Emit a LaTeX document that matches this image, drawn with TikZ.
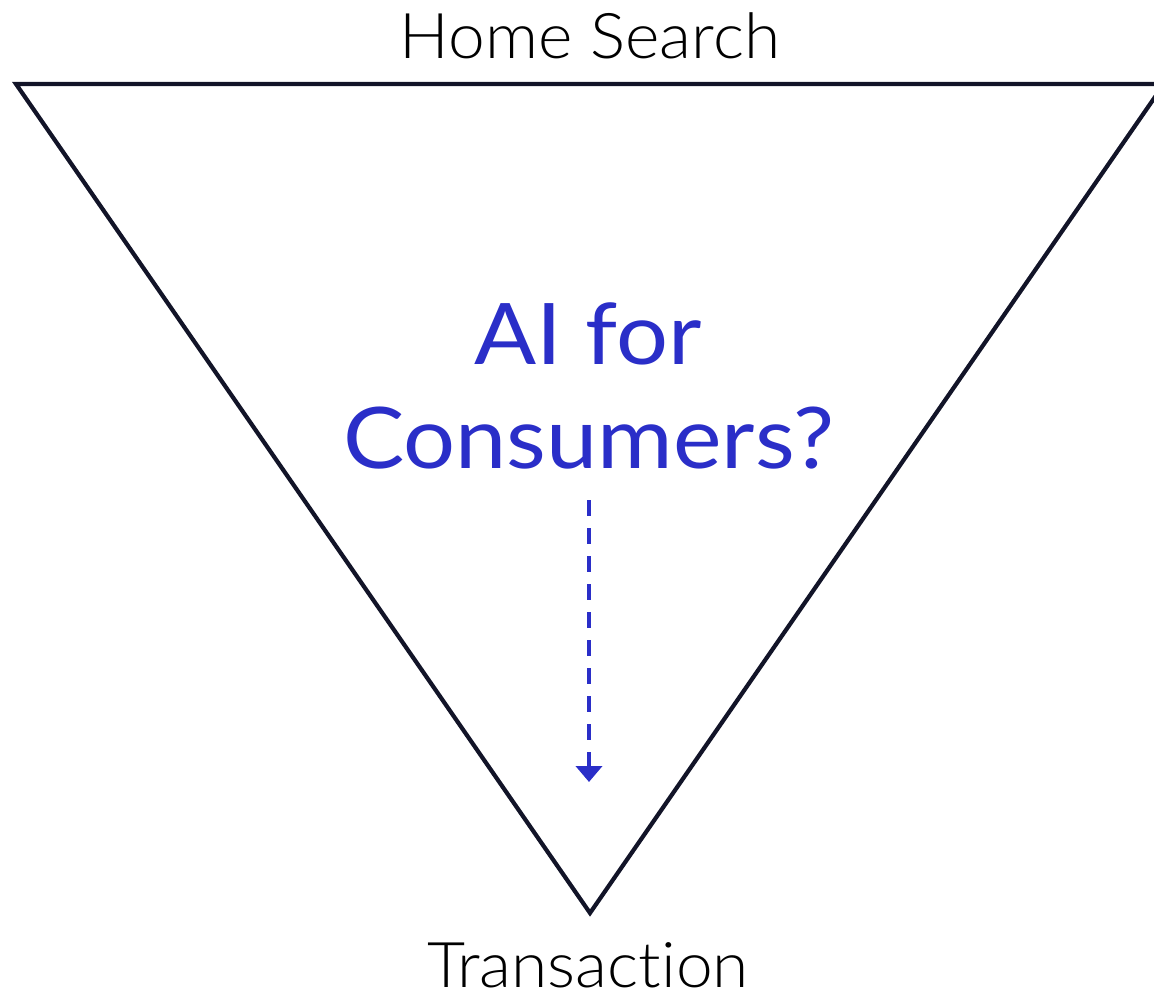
\documentclass[tikz,border=0pt]{standalone}
\usepackage{fontspec}
\setmainfont{Lato}[Ligatures={NoCommon,NoRare,NoDiscretionary}, FakeStretch=1.08]
\newfontfamily\lightfont{Lato}[UprightFont=* Light, Ligatures={NoCommon,NoRare,NoDiscretionary}, FakeStretch=1.045]
\usetikzlibrary{arrows.meta}
\definecolor{navy}{RGB}{18,20,40}
\definecolor{aiblue}{RGB}{42,46,200}
\tikzset{
  lbl/.style={anchor=base, inner sep=0pt, text=black, font=\lightfont\fontsize{63}{70}\selectfont},
  ailbl/.style={anchor=base, inner sep=0pt, text=aiblue, font=\fontsize{85}{100}\selectfont},
  funnel/.style={draw=navy, line width=4.2pt, line join=miter},
  flow/.style={draw=aiblue, line width=4pt, dash pattern=on 16pt off 12pt, -{Triangle[length=16pt,width=26pt]}}
}
\begin{document}
\begin{tikzpicture}[x=1pt,y=-1pt]
\useasboundingbox (0,0) rectangle (1154,991);
\clip (0,0) rectangle (1154,991);
\coordinate (tl) at (16,84);
\coordinate (tr) at (1164,84);
\coordinate (bot) at (590,913);
\draw[funnel] (tl) -- (tr) -- (bot) -- cycle;
\node[lbl] (home) at (590,58) {Home Search};
\node[lbl] (trans) at (588,987) {Transaction};
\node[ailbl] (ai1) at (588,364) {AI for};
\node[ailbl] (ai2) at (589,468) {Consumers?};
\coordinate (arrS) at (589,500);
\coordinate (arrE) at (589,782);
\draw[flow] (arrS) -- (arrE);
\end{tikzpicture}
\end{document}
